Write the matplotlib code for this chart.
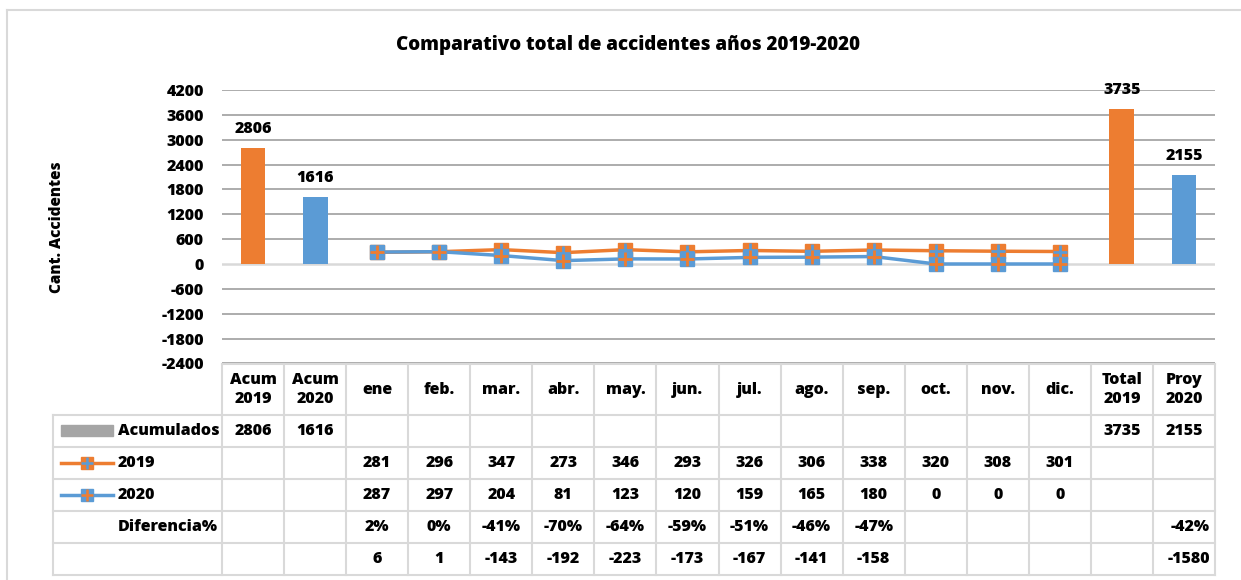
import matplotlib.pyplot as plt
from matplotlib.transforms import blended_transform_factory
from matplotlib.lines import Line2D
from matplotlib.patches import Rectangle

plt.rcParams['font.family'] = ['Open Sans', 'DejaVu Sans']
plt.rcParams['font.weight'] = 'heavy'
plt.rcParams['axes.unicode_minus'] = False

# data
categories = ['Acum\n2019', 'Acum\n2020', 'ene', 'feb.', 'mar.', 'abr.', 'may.', 'jun.',
              'jul.', 'ago.', 'sep.', 'oct.', 'nov.', 'dic.', 'Total\n2019', 'Proy\n2020']
acum_values = [2806, 1616, 3735, 2155]
acum_idx = [0, 1, 14, 15]
months_2019 = [281, 296, 347, 273, 346, 293, 326, 306, 338, 320, 308, 301]
months_2020 = [287, 297, 204, 81, 123, 120, 159, 165, 180, 0, 0, 0]
diff_pct = ['2%', '0%', '-41%', '-70%', '-64%', '-59%', '-51%', '-46%', '-47%']
diff_abs = [6, 1, -143, -192, -223, -173, -167, -141, -158]
proy_pct = '-42%'
proy_abs = -1580

ORANGE = '#ed7d31'
BLUE = '#5b9bd5'
W, H = 1241, 580
FS = 11.5
WT = 'heavy'

fig = plt.figure(figsize=(W / 100, H / 100), dpi=100)

def fx(px):
  return px / W

def fy(py):
  return 1 - py / H

# outer frame
fig.add_artist(Line2D([fx(7), fx(7)], [fy(10), fy(580)], color='#d9d9d9', lw=1.5))
fig.add_artist(Line2D([fx(7), fx(1241)], [fy(10), fy(10)], color='#d9d9d9', lw=1.5))

ax = fig.add_axes([fx(222), fy(363.4), fx(1215) - fx(222), fy(90) - fy(363.4)])
ax.set_xlim(-0.5, len(categories) - 0.5)
ax.set_ylim(-2400, 4200)
ax.set_yticks(range(-2400, 4201, 600))
for t in range(-2400, 4201, 600):
  if t == 0:
    ax.axhline(t, color='#d9d9d9', lw=1.8, zorder=0)
  else:
    ax.axhline(t, color='#a6a6a6', lw=1.3, zorder=0)
for s in ax.spines.values():
  s.set_visible(False)
ax.set_xticks([])
ax.tick_params(axis='y', length=0, labelsize=FS, pad=13)
for lbl in ax.get_yticklabels():
  lbl.set_fontweight(WT)

bar_colors = [ORANGE, BLUE, ORANGE, BLUE]
bars = ax.bar(acum_idx, acum_values, width=0.4, color=bar_colors, zorder=2)
for b, v in zip(bars, acum_values):
  ax.annotate(str(v), (b.get_x() + b.get_width() / 2, v), xytext=(0, 8),
              textcoords='offset points', ha='center', va='bottom',
              fontsize=FS, fontweight=WT)

mx = list(range(2, 14))
ax.plot(mx, months_2019, color=ORANGE, lw=2.5, zorder=3)
ax.plot(mx, months_2019, ls='none', marker='s', ms=9.5, color=ORANGE, zorder=3)
ax.plot(mx, months_2019, ls='none', marker='+', ms=9.5, mew=2, color=BLUE, zorder=3)
ax.plot(mx, months_2020, color=BLUE, lw=2.5, zorder=4)
ax.plot(mx, months_2020, ls='none', marker='s', ms=9.5, color=BLUE, zorder=4)
ax.plot(mx, months_2020, ls='none', marker='+', ms=9.5, mew=2, color=ORANGE, zorder=4)

fig.text(fx(628), fy(45), 'Comparativo total de accidentes años 2019-2020',
         ha='center', va='center', fontsize=13.5, fontweight=WT)
fig.text(fx(57), fy(227), 'Cant. Accidentes', rotation=90, ha='center', va='center',
         fontsize=11, fontweight=WT)

# data table under the chart
trans = blended_transform_factory(ax.transData, fig.transFigure)
grid_c = '#d9d9d9'
row_edges = [364, 415, 447, 479, 511, 543, 575]
x0, x1 = -0.5, len(categories) - 0.5
left_px = 53

# horizontal lines
ax.plot([x0, x1], [fy(364), fy(364)], color=grid_c, lw=1.5, transform=trans, clip_on=False)
for r in row_edges[1:]:
  fig.add_artist(Line2D([fx(left_px), fx(1215)], [fy(r), fy(r)], color=grid_c, lw=1.5))
# vertical lines
for i in range(len(categories) + 1):
  ax.plot([x0 + i, x0 + i], [fy(364), fy(575)], color=grid_c, lw=1.5,
          transform=trans, clip_on=False)
fig.add_artist(Line2D([fx(left_px), fx(left_px)], [fy(415), fy(575)], color=grid_c, lw=1.5))

def row_y(r):
  return fy((row_edges[r] + row_edges[r + 1]) / 2)

for i, c in enumerate(categories):
  ax.text(i, row_y(0), c, transform=trans, ha='center', va='center',
          fontsize=FS, fontweight=WT, linespacing=1.25)

acum_row = {0: 2806, 1: 1616, 14: 3735, 15: 2155}
for i, v in acum_row.items():
  ax.text(i, row_y(1), str(v), transform=trans, ha='center', va='center', fontsize=FS)
for i, v in enumerate(months_2019):
  ax.text(i + 2, row_y(2), str(v), transform=trans, ha='center', va='center', fontsize=FS)
for i, v in enumerate(months_2020):
  ax.text(i + 2, row_y(3), str(v), transform=trans, ha='center', va='center', fontsize=FS)
for i, v in enumerate(diff_pct):
  ax.text(i + 2, row_y(4), v, transform=trans, ha='center', va='center', fontsize=FS)
for i, v in enumerate(diff_abs):
  ax.text(i + 2, row_y(5), str(v), transform=trans, ha='center', va='center', fontsize=FS)
ax.text(15.42, row_y(4), proy_pct, transform=trans, ha='right', va='center', fontsize=FS)
ax.text(15.42, row_y(5), str(proy_abs), transform=trans, ha='right', va='center', fontsize=FS)

# row labels with legend keys
fig.add_artist(Rectangle((fx(61), fy(436)), fx(113) - fx(61), fy(425) - fy(436),
                         color='#a5a5a5'))
for r, lc, pc in [(2, ORANGE, BLUE), (3, BLUE, ORANGE)]:
  y = row_y(r)
  fig.add_artist(Line2D([fx(61), fx(113)], [y, y], color=lc, lw=2.5))
  fig.add_artist(Line2D([fx(87)], [y], marker='s', ms=8, color=lc, ls='none'))
  fig.add_artist(Line2D([fx(87)], [y], marker='+', ms=8, mew=1.8, color=pc, ls='none'))
fig.text(fx(118), row_y(1), 'Acumulados', ha='left', va='center', fontsize=FS)
fig.text(fx(118), row_y(2), '2019', ha='left', va='center', fontsize=FS)
fig.text(fx(118), row_y(3), '2020', ha='left', va='center', fontsize=FS)
fig.text(fx(118), row_y(4), 'Diferencia%', ha='left', va='center', fontsize=FS)

fig.savefig('out.png', dpi=100)
